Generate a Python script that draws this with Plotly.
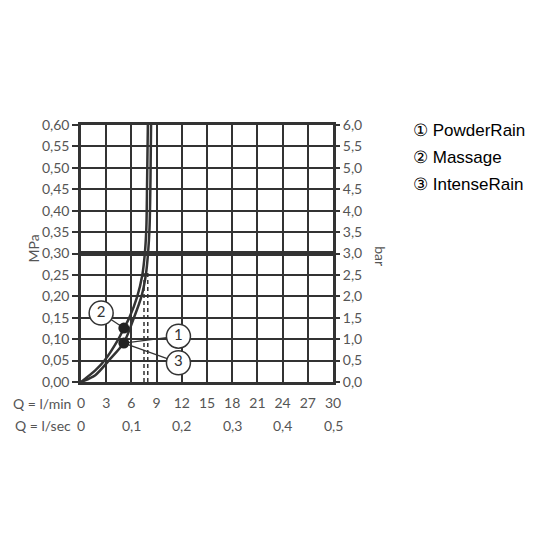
import plotly.graph_objects as go

# flow in l/min, pressure in MPa
massage_q = [0, 1.7, 2.8, 4.45, 5.1, 5.75, 6.7, 7.3, 7.6, 7.78, 7.87, 7.96]
massage_p = [0, 0.027, 0.05, 0.10, 0.125, 0.15, 0.20, 0.25, 0.30, 0.36, 0.47, 0.60]
powder_q = [0, 1.7, 3.3, 5.1, 6.3, 7.2, 7.72, 7.98, 8.16, 8.27, 8.34]
powder_p = [0, 0.016, 0.05, 0.092, 0.15, 0.20, 0.25, 0.30, 0.36, 0.47, 0.60]

dashed_q = [7.5, 7.95]
dashed_top = 0.26
limit_p = 0.30

dot_q = [5.1, 5.1]
dot_p = [0.126, 0.091]

labels = ["1", "2", "3"]
label_q = [11.6, 2.4, 11.6]
label_p = [0.107, 0.161, 0.045]
label_target = [1, 0, 1]  # index into dots

legend_names = ["① PowderRain", "② Massage", "③ IntenseRain"]

lmin_ticks = list(range(0, 31, 3))
lsec_vals = [0, 0.1, 0.2, 0.3, 0.4, 0.5]
lsec_text = ["0", "0,1", "0,2", "0,3", "0,4", "0,5"]

ink = "#333333"
grey = "#555555"
font = "Lato"

fig = go.Figure()

# leader lines first, so the circles sit on top
for i in range(len(labels)):
    j = label_target[i]
    fig.add_trace(go.Scatter(x=[label_q[i], dot_q[j]], y=[label_p[i], dot_p[j]],
                             mode="lines", line=dict(color=ink, width=1.3),
                             hoverinfo="skip"))

fig.add_trace(go.Scatter(x=[0, 30], y=[limit_p, limit_p], mode="lines",
                         line=dict(color=ink, width=5)))

for q in dashed_q:
    fig.add_trace(go.Scatter(x=[q, q], y=[0, dashed_top], mode="lines",
                             line=dict(color=ink, width=1.5, dash="4px,3px")))

fig.add_trace(go.Scatter(x=massage_q, y=massage_p, mode="lines",
                         line=dict(color=ink, width=2.5, shape="spline", smoothing=0.8)))
fig.add_trace(go.Scatter(x=powder_q, y=powder_p, mode="lines",
                         line=dict(color=ink, width=2.5, shape="spline", smoothing=0.8)))

fig.add_trace(go.Scatter(x=dot_q, y=dot_p, mode="markers",
                         marker=dict(color="#222222", size=11)))

fig.add_trace(go.Scatter(x=label_q, y=label_p, mode="markers+text", text=labels,
                         textposition="middle center",
                         textfont=dict(family=font, size=15, color=ink),
                         marker=dict(color="white", size=24,
                                     line=dict(color=ink, width=1.5))))

# dummy trace for the bar axis
fig.add_trace(go.Scatter(x=[0], y=[0], yaxis="y2", mode="markers",
                         marker=dict(opacity=0), hoverinfo="skip"))

# page body has an 8px margin, so the figure is a bit smaller than the window
fig.update_layout(
    width=520, height=520,
    margin=dict(l=73, r=195, t=117, b=146, autoexpand=False),
    paper_bgcolor="white", plot_bgcolor="white",
    showlegend=False,
    separators=", ",
    xaxis=dict(range=[0, 30], tickvals=lmin_ticks, ticks="", showgrid=True,
               gridcolor=ink, gridwidth=2, zeroline=False,
               showline=True, linecolor=ink, linewidth=2.5, mirror=True,
               ticklabelstandoff=6,
               tickfont=dict(family=font, size=14, color=grey)),
    yaxis=dict(range=[0, 0.6], dtick=0.05, tickformat=".2f", ticks="outside",
               ticklen=6, tickcolor=ink, tickwidth=1.5, showgrid=True,
               gridcolor=ink, gridwidth=2, zeroline=False,
               showline=True, linecolor=ink, linewidth=2.5, mirror=True,
               tickfont=dict(family=font, size=14, color=grey)),
    yaxis2=dict(range=[0, 6], dtick=0.5, tickformat=".1f", overlaying="y",
                side="right", ticks="outside", ticklen=6, tickcolor=ink,
                tickwidth=1.5, showgrid=False, zeroline=False,
                tickfont=dict(family=font, size=14, color=grey)),
)

txt = dict(family=font, size=14, color=grey)
ann = []
ann.append(dict(text="MPa", xref="paper", yref="paper", x=-0.19, y=0.52,
                xanchor="center", yanchor="middle", textangle=-90,
                showarrow=False, font=txt))
ann.append(dict(text="bar", xref="paper", yref="paper", x=1.19, y=0.49,
                xanchor="center", yanchor="middle", textangle=90,
                showarrow=False, font=txt))
ann.append(dict(text="Q = l/min", xref="paper", yref="paper", x=-0.03, y=-0.084,
                xanchor="right", yanchor="middle", showarrow=False, font=txt))
ann.append(dict(text="Q = l/sec", xref="paper", yref="paper", x=-0.03, y=-0.168,
                xanchor="right", yanchor="middle", showarrow=False, font=txt))
for v, t in zip(lsec_vals, lsec_text):
    ann.append(dict(text=t, xref="x", yref="paper", x=v * 60, y=-0.168,
                    xanchor="center", yanchor="middle", showarrow=False, font=txt))
for i, name in enumerate(legend_names):
    ann.append(dict(text=name, xref="paper", yref="paper", x=1.31,
                    y=0.977 - i * 0.104, xanchor="left", yanchor="middle",
                    showarrow=False,
                    font=dict(family="Liberation Sans", size=17, color="black")))
fig.update_layout(annotations=ann)

fig.write_html("out.html")
